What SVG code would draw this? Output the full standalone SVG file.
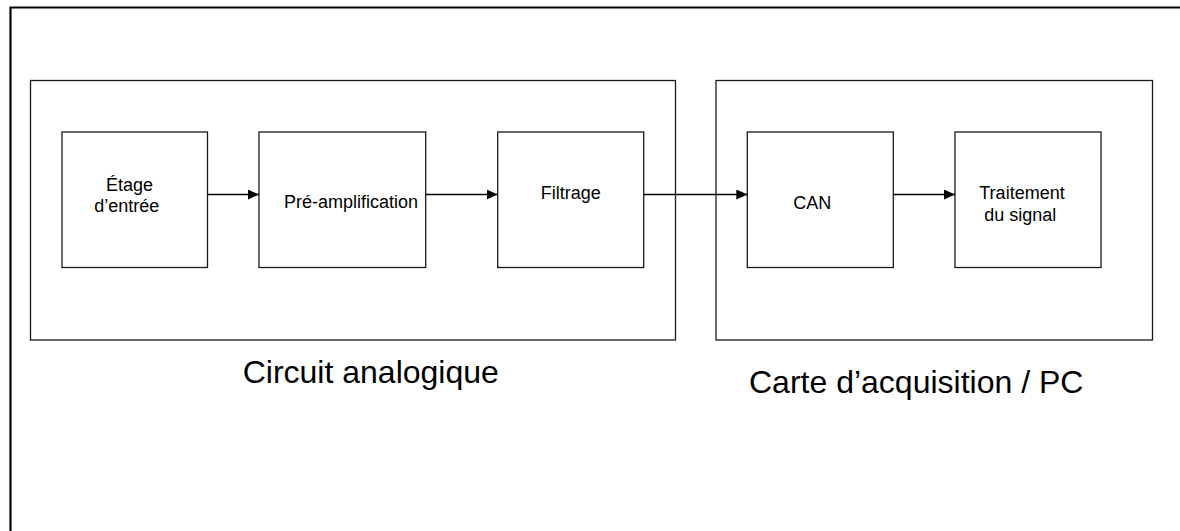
<svg xmlns="http://www.w3.org/2000/svg" width="1180" height="531" viewBox="0 0 1180 531">
  <style>
    .frame { fill: none; stroke: #000; stroke-width: 2.2; }
    .box { fill: #fff; stroke: #1a1a1a; stroke-width: 1.3; }
    .lbl { font-family: "Liberation Sans", Arial, sans-serif; font-size: 18px; fill: #000; }
    .big { font-family: "Liberation Sans", Arial, sans-serif; font-size: 32px; fill: #000; }
    .wire { fill: none; stroke: #000; stroke-width: 1.6; }
  </style>
  <defs>
    <marker id="arrow" markerWidth="11" markerHeight="10" refX="11" refY="5" orient="auto" markerUnits="userSpaceOnUse">
      <path d="M0,0 L11,5 L0,10 Z" fill="#000"/>
    </marker>
  </defs>
  <rect width="1180" height="531" fill="#fff"/>

  <!-- outer sheet border (open at right and bottom) -->
  <path class="frame" d="M10.5,540 V7.5 H1190"/>

  <!-- sub-system containers -->
  <g id="circuit-analogique">
    <rect class="box" x="30.5" y="80.5" width="645" height="259.5"/>
    <text class="big" x="242.7" y="382.7" font-size="31.5">Circuit analogique</text>
  </g>
  <g id="carte-acquisition">
    <rect class="box" x="716" y="80.5" width="436.5" height="259.5"/>
    <text class="big" x="749" y="393.3" font-size="32.6">Carte d’acquisition / PC</text>
  </g>

  <!-- processing stages -->
  <g id="etage-entree">
    <rect class="box" x="62" y="132" width="145.5" height="135.5"/>
    <text class="lbl" x="106" y="190.7">Étage</text>
    <text class="lbl" x="94.3" y="211.7">d’entrée</text>
  </g>
  <g id="pre-amplification">
    <rect class="box" x="259" y="132" width="166.7" height="135.5"/>
    <text class="lbl" x="284" y="208.3">Pré-amplification</text>
  </g>
  <g id="filtrage">
    <rect class="box" x="497.7" y="132" width="146" height="135.5"/>
    <text class="lbl" x="540.7" y="199.3">Filtrage</text>
  </g>
  <g id="can">
    <rect class="box" x="747.3" y="132" width="146" height="135.5"/>
    <text class="lbl" x="793.3" y="209.3">CAN</text>
  </g>
  <g id="traitement">
    <rect class="box" x="955" y="132" width="146" height="135.5"/>
    <text class="lbl" x="979.3" y="199.3">Traitement</text>
    <text class="lbl" x="984.3" y="221">du signal</text>
  </g>

  <!-- signal flow -->
  <g id="connectors">
    <line class="wire" x1="207.5" y1="194.5" x2="259" y2="194.5" marker-end="url(#arrow)"/>
    <line class="wire" x1="425.7" y1="194.5" x2="497.7" y2="194.5" marker-end="url(#arrow)"/>
    <line class="wire" x1="643.7" y1="194.5" x2="747.3" y2="194.5" marker-end="url(#arrow)"/>
    <line class="wire" x1="893.3" y1="194.5" x2="955" y2="194.5" marker-end="url(#arrow)"/>
  </g>
</svg>
